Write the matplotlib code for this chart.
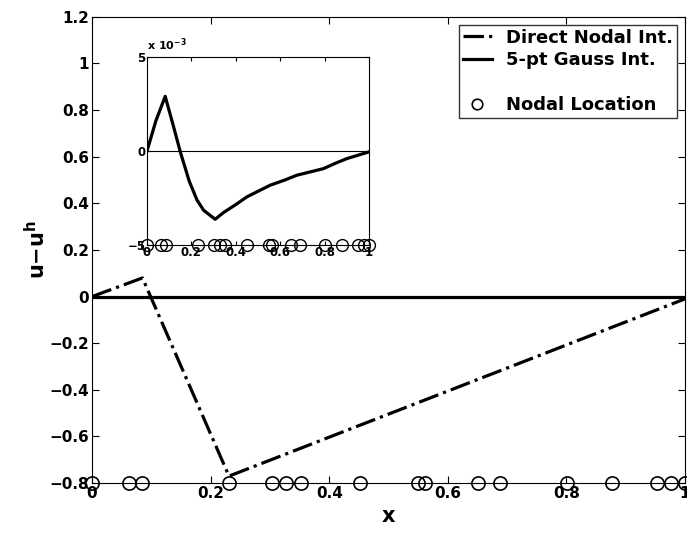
import numpy as np
import matplotlib
matplotlib.use("Agg")
import matplotlib.pyplot as plt

plt.rcParams['font.family'] = ['DejaVu Sans']
plt.rcParams['font.weight'] = 'bold'

# nodal locations
nodes = [0.0, 0.063, 0.085, 0.231, 0.304, 0.327, 0.352, 0.452, 0.550, 0.561,
         0.651, 0.688, 0.801, 0.877, 0.953, 0.977, 1.0]

# direct nodal integration error (piecewise linear)
direct_x = [0.0, 0.085, 0.231, 1.0]
direct_y = [0.0, 0.08, -0.77, -0.01]

# 5-pt gauss integration error (inset, units of 1e-3)
gauss_x = [0.0, 0.04, 0.082, 0.12, 0.15, 0.19, 0.225, 0.255, 0.307, 0.345,
           0.40, 0.45, 0.555, 0.62, 0.675, 0.74, 0.795, 0.85, 0.9, 1.0]
gauss_y = [0.0, 1.6, 2.9, 1.27, -0.05, -1.6, -2.6, -3.15, -3.63, -3.27,
           -2.85, -2.44, -1.82, -1.55, -1.29, -1.1, -0.94, -0.65, -0.41, -0.05]

fig = plt.figure(figsize=(6.87, 5.41), dpi=100)
ax = fig.add_axes([0.134, 0.107, 0.863, 0.862])

ax.plot(direct_x, direct_y, 'k-.', lw=2.3, label='Direct Nodal Int.')
ax.plot([0, 1], [0, 0], 'k-', lw=2.3, label='5-pt Gauss Int.')
ax.plot([], [], ' ', label=' ')
ax.plot(nodes, np.full(len(nodes), -0.8), 'o', ms=9.5, mfc='none', mec='k',
        mew=1.2, clip_on=False, label='Nodal Location', zorder=5)

ax.set_xlim(0, 1)
ax.set_ylim(-0.8, 1.2)
ax.set_xticks(np.arange(0, 1.01, 0.2))
ax.set_xticklabels(['0', '0.2', '0.4', '0.6', '0.8', '1'])
ax.set_yticks(np.arange(-0.8, 1.21, 0.2))
ax.set_yticklabels(['\u22120.8', '\u22120.6', '\u22120.4', '\u22120.2', '0',
                    '0.2', '0.4', '0.6', '0.8', '1', '1.2'])
ax.tick_params(direction='in', labelsize=11, length=5, top=True, right=True, pad=2)
for lab in ax.get_xticklabels() + ax.get_yticklabels():
    lab.set_fontweight('bold')
ax.set_xlabel('x', fontsize=15, fontweight='bold', labelpad=4)
ax.set_ylabel('u\u2212u$^{\\mathbf{h}}$', fontsize=15, fontweight='bold', labelpad=0)

leg = ax.legend(loc='upper right', fontsize=13, frameon=True, fancybox=False,
                edgecolor='k', handlelength=1.6, borderpad=0.2, labelspacing=0.25,
                handletextpad=0.8, borderaxespad=0.45, markerscale=0.8)
leg.get_frame().set_linewidth(1.0)
for t in leg.get_texts():
    t.set_fontweight('bold')

# inset
ins = fig.add_axes([0.214, 0.547, 0.323, 0.348])
ins.plot(gauss_x, gauss_y, 'k-', lw=2.3)
ins.axhline(0, color='k', lw=0.8)
ins.plot(nodes, np.full(len(nodes), -5), 'o', ms=8.5, mfc='none', mec='k',
         mew=1.0, clip_on=False, zorder=5)
ins.set_xlim(0, 1)
ins.set_ylim(-5, 5)
ins.set_xticks(np.arange(0, 1.01, 0.2))
ins.set_xticklabels(['0', '0.2', '0.4', '0.6', '0.8', '1'])
ins.set_yticks([-5, 0, 5])
ins.set_yticklabels(['\u22125', '0', '5'])
ins.tick_params(direction='in', labelsize=8.5, length=3, top=True, right=True, pad=1)
for lab in ins.get_xticklabels() + ins.get_yticklabels():
    lab.set_fontweight('bold')
ins.text(0.0, 1.02, 'x 10$^{-3}$', transform=ins.transAxes, fontsize=8,
         fontweight='bold', ha='left', va='bottom')

fig.savefig('out.png', dpi=100)
